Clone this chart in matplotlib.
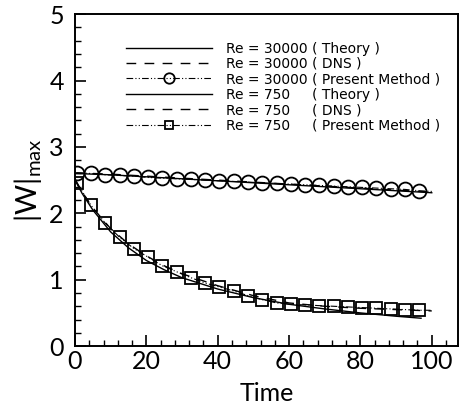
import matplotlib
matplotlib.use("Agg")
import matplotlib.pyplot as plt
from matplotlib.ticker import MultipleLocator

plt.rcParams["font.family"] = ["Lato", "DejaVu Sans"]
plt.rcParams["mathtext.fontset"] = "custom"
plt.rcParams["mathtext.rm"] = "Lato"

# Re = 30000
t_th30 = [0, 10, 20, 30, 40, 50, 60, 70, 80, 90, 100]
w_th30 = [2.60, 2.58, 2.55, 2.52, 2.49, 2.46, 2.43, 2.40, 2.37, 2.34, 2.31]
t_dns30 = [0, 10, 20, 30, 40, 50, 60, 70, 80, 90, 100]
w_dns30 = [2.61, 2.59, 2.56, 2.53, 2.50, 2.47, 2.44, 2.41, 2.38, 2.35, 2.32]
t_pm = [0.5, 4.5, 8.5, 12.5, 16.5, 20.5, 24.5, 28.5, 32.5, 36.5, 40.5, 44.5, 48.5,
        52.5, 56.5, 60.5, 64.5, 68.5, 72.5, 76.5, 80.5, 84.5, 88.5, 92.5, 96.5]
w_pm30 = [2.61, 2.60, 2.58, 2.57, 2.56, 2.54, 2.53, 2.52, 2.51, 2.50, 2.49, 2.48, 2.47,
          2.46, 2.45, 2.44, 2.43, 2.42, 2.41, 2.40, 2.39, 2.38, 2.37, 2.36, 2.34]

# Re = 750
t_th750 = [0, 2, 5, 10, 15, 20, 25, 30, 40, 50, 60, 70, 80, 90, 97]
w_th750 = [2.50, 2.30, 2.05, 1.72, 1.48, 1.29, 1.15, 1.03, 0.86, 0.73, 0.63, 0.56, 0.50, 0.45, 0.42]
t_dns750 = [0, 2, 5, 10, 15, 20, 25, 30, 40, 50, 60, 70, 80, 90, 100]
w_dns750 = [2.52, 2.32, 2.08, 1.77, 1.54, 1.36, 1.21, 1.09, 0.91, 0.76, 0.65, 0.60, 0.57, 0.55, 0.53]
w_pm750 = [2.46, 2.12, 1.85, 1.64, 1.47, 1.34, 1.21, 1.12, 1.03, 0.95, 0.89, 0.83, 0.76,
           0.70, 0.65, 0.63, 0.62, 0.61, 0.60, 0.59, 0.58, 0.57, 0.56, 0.55, 0.54]

dashdot = (0, (6, 2, 1, 2, 1, 2))

fig = plt.figure(figsize=(4.6, 4.16), dpi=100)
ax = fig.add_axes([0.163, 0.168, 0.833, 0.798])

ax.plot(t_th30, w_th30, '-', c='k', lw=1.0, label='Re = 30000 ( Theory )')
ax.plot(t_dns30, w_dns30, '--', c='k', lw=1.0, dashes=(7, 6), label='Re = 30000 ( DNS )')
ax.plot(t_pm + [100], w_pm30 + [2.33], linestyle=dashdot, c='k', lw=0.8, marker='o', ms=10,
        mfc='none', mec='k', mew=1.3, markevery=list(range(25)), label='Re = 30000 ( Present Method )')
ax.plot(t_th750, w_th750, '-', c='k', lw=1.0, label='Re = 750     ( Theory )')
ax.plot(t_dns750, w_dns750, '--', c='k', lw=1.0, dashes=(7, 6), label='Re = 750     ( DNS )')
ax.plot(t_pm + [100], w_pm750 + [0.54], linestyle=dashdot, c='k', lw=0.8, marker='s', ms=8,
        mfc='none', mec='k', mew=1.3, markevery=list(range(25)), label='Re = 750     ( Present Method )')

ax.set_xlim(0, 107.4)
ax.set_ylim(0, 5)
ax.xaxis.set_major_locator(MultipleLocator(20))
ax.xaxis.set_minor_locator(MultipleLocator(4))
ax.yaxis.set_major_locator(MultipleLocator(1))
ax.yaxis.set_minor_locator(MultipleLocator(0.2))
ax.tick_params(which='both', direction='in', top=False, right=False, labelsize=18)
ax.tick_params(axis='x', pad=3)
ax.tick_params(axis='y', pad=8)
ax.tick_params(which='major', length=8, width=1.2)
ax.tick_params(which='minor', length=4, width=1.0)
for s in ax.spines.values():
    s.set_linewidth(1.4)

ax.set_xlabel('Time', fontsize=18, labelpad=6)
ax.set_ylabel(r'$|\mathrm{W}|_{\mathrm{max}}$', fontsize=21, labelpad=4)

ax.legend(loc='upper left', bbox_to_anchor=(0.1, 0.955), frameon=False,
          prop={'family': 'DejaVu Sans', 'size': 10},
          handlelength=6.2, numpoints=1, markerscale=0.75, labelspacing=0.1, handletextpad=1.0)

plt.savefig('out.png', dpi=100)
